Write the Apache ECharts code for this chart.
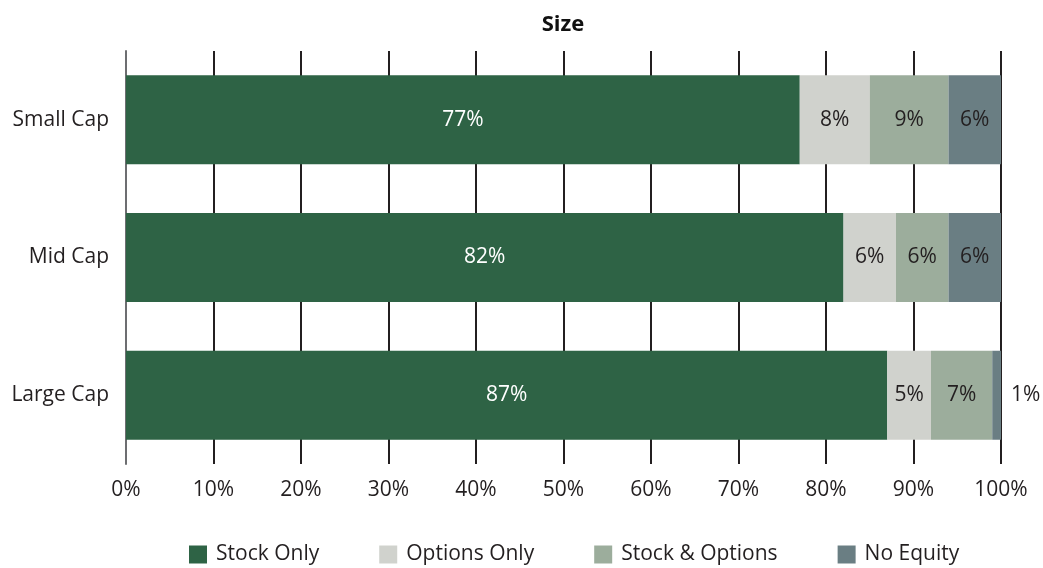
<!DOCTYPE html>
<html>
<head>
<meta charset="utf-8">
<script src="https://cdn.jsdelivr.net/npm/echarts@6/dist/echarts.min.js"></script>
<style>
  html, body { margin: 0; padding: 0; background: #fff; }
  #chart { width: 1043px; height: 568px; }
</style>
</head>
<body>
<div id="chart"></div>
<script>
// data
const categories = ['Large Cap', 'Mid Cap', 'Small Cap']
const stockOnly = [87, 82, 77]
const optionsOnly = [5, 6, 8]
const stockAndOptions = [7, 6, 9]
const noEquity = [1, 6, 6]
const xTicks = [0, 10, 20, 30, 40, 50, 60, 70, 80, 90, 100]

const fontFamily = '"Open Sans", "Noto Sans", sans-serif'
const textColor = '#231f20'
const fontSize = 21

// small segments get their label pushed outside the bar
function toData (values) {
  return values.map(v => {
    if (v < 3) {
      return { value: v, label: { position: 'right', distance: 10, color: textColor } }
    }
    return { value: v }
  })
}

function makeSeries (name, values, color, labelColor) {
  return {
    name: name,
    type: 'bar',
    stack: 'total',
    barWidth: 89,
    data: toData(values),
    itemStyle: { color: color },
    label: {
      show: true,
      position: 'inside',
      formatter: '{c}%',
      color: labelColor,
      fontFamily: fontFamily,
      fontSize: fontSize
    },
    emphasis: { disabled: true }
  }
}

const myChart = echarts.init(document.getElementById('chart'))
const option = {
  animation: false,
  title: {
    text: 'Size',
    left: 558,
    textAlign: 'center',
    top: 9,
    textStyle: { fontFamily: fontFamily, fontSize: 22, fontWeight: 'bold', color: '#111' }
  },
  grid: { left: 126, right: 42, top: 51, bottom: 104 },
  legend: {
    top: 539,
    left: 184,
    icon: 'rect',
    itemWidth: 18,
    itemHeight: 18,
    itemGap: 60,
    textStyle: { fontFamily: fontFamily, fontSize: fontSize, color: textColor, padding: [0, 0, 0, 4] },
    data: ['Stock Only', 'Options Only', 'Stock & Options', 'No Equity']
  },
  xAxis: {
    type: 'value',
    min: xTicks[0],
    max: xTicks[xTicks.length - 1],
    interval: 10,
    axisLine: { show: false },
    axisTick: { show: false },
    splitLine: { show: true, lineStyle: { color: '#231f20', width: 2 } },
    axisLabel: {
      formatter: '{value}%',
      margin: 16,
      fontFamily: fontFamily,
      fontSize: fontSize,
      color: textColor
    }
  },
  yAxis: {
    type: 'category',
    data: categories,
    axisLine: { show: true, lineStyle: { color: '#6d6e71', width: 2 } },
    axisTick: { show: false },
    axisLabel: { margin: 17, fontFamily: fontFamily, fontSize: fontSize, color: textColor }
  },
  series: [
    makeSeries('Stock Only', stockOnly, '#2e6345', '#ffffff'),
    makeSeries('Options Only', optionsOnly, '#d0d2cd', textColor),
    makeSeries('Stock & Options', stockAndOptions, '#9cad9c', textColor),
    makeSeries('No Equity', noEquity, '#6a7e83', textColor)
  ]
}
myChart.setOption(option)
</script>
</body>
</html>
